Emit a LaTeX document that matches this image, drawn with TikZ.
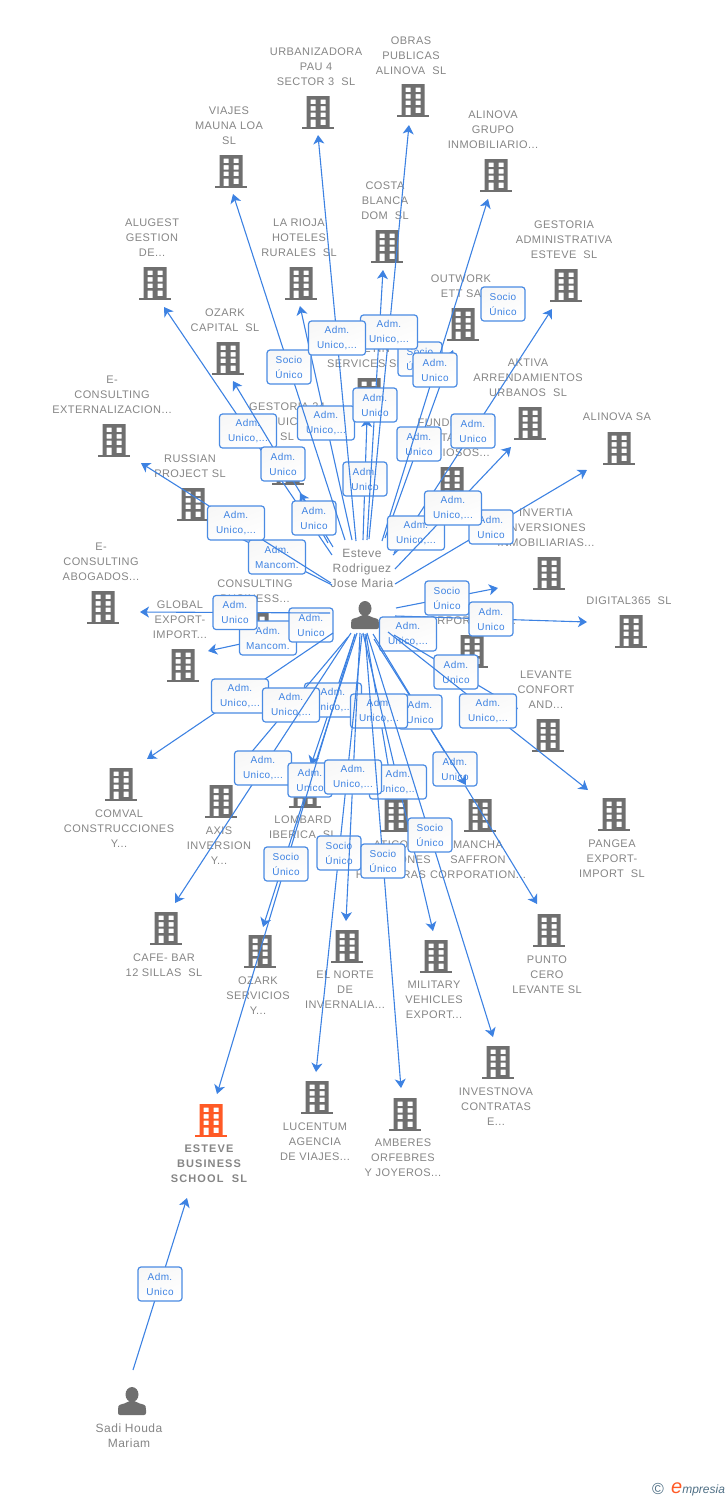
\documentclass[tikz,border=0pt]{standalone}
\usepackage{fontspec}
\setmainfont{Liberation Sans}
\usetikzlibrary{arrows.meta}
\newfontfamily\spaced[LetterSpace=4]{Liberation Sans}
\newfontfamily\spacedb[LetterSpace=10]{Liberation Sans}
\definecolor{linkblue}{HTML}{3D82E2}
\definecolor{boxblue}{HTML}{4A8BE3}
\definecolor{namegray}{HTML}{858585}
\definecolor{iconorange}{HTML}{FF5A26}
\definecolor{icongray}{HTML}{6F6F6F}
\definecolor{markslate}{HTML}{4F6F85}
\tikzset{
  link/.style={linkblue,line width=1.1pt,-{Stealth[length=9pt,width=11pt,inset=2.5pt]}},
  plainlink/.style={linkblue,line width=1.1pt},
  role/.style={draw=boxblue,line width=1.2pt,rounded corners=3pt,top color=black!3,bottom color=white,shading angle=20,
    text=linkblue,inner sep=0pt,minimum height=34pt,align=center,font=\spaced\fontsize{10}{15}\selectfont},
  rolesmall/.style={role,minimum width=44pt},
  rolewide/.style={role,minimum width=57pt},
  cotext/.style={text=namegray,inner sep=0pt,anchor=north,align=center,font=\spaced\fontsize{11}{15}\selectfont},
  persontext/.style={cotext,font=\spaced\fontsize{12}{15}\selectfont},
  bldg/.pic={
    \fill[pic actions,even odd rule] (-11.5,0) rectangle (11.5,31)
      (-7.5,3.5) rectangle (-2.5,8) (2.5,3.5) rectangle (7.5,8)
      (-7.5,10) rectangle (-2.5,14.5) (2.5,10) rectangle (7.5,14.5)
      (-7.5,16.5) rectangle (-2.5,21) (2.5,16.5) rectangle (7.5,21)
      (-7.5,23.5) rectangle (-2.5,31) (2.5,23.5) rectangle (7.5,29);
    \fill[pic actions] (-16,30.5) rectangle (16,33);
  },
  man/.pic={
    \fill[pic actions] (0,6.5) ellipse (6.5 and 7.5);
    \fill[pic actions,rounded corners=2pt] (-14,27) -- (-14,20) .. controls (-13,16) and (-7,16) .. (-4,13) -- (4,13)
      .. controls (7,16) and (13,16) .. (14,20) -- (14,27) -- cycle;
  }
}
% building at (cx,top), name centred on cx2 with first line at y
\newcommand{\company}[7][icongray]{
  \pic[fill=#1] at (#3,#4) {bldg};
  \node[cotext] (#2) at (#5,#6-4) {#7};
}
\newcommand{\boldline}{\spacedb\bfseries}
\begin{document}
\begin{tikzpicture}[x=1pt,y=-1pt]
  \useasboundingbox (0,0) rectangle (728,1500);

  % companies
  \company{urbanizadora}{318}{96}{316}{52}{URBANIZADORA\\PAU 4\\SECTOR 3\ \ SL}
  \company{obras}{413}{84}{411}{41}{OBRAS\\PUBLICAS\\ALINOVA\ \ SL}
  \company{viajes}{231}{155}{229}{111}{VIAJES\\MAUNA LOA\\SL}
  \company{alugest}{155}{267}{152}{223}{ALUGEST\\GESTION\\DE...}
  \company{rioja}{301}{267}{299}{223}{LA RIOJA\\HOTELES\\RURALES\ \ SL}
  \company{costa}{387}{230}{385}{186}{COSTA\\BLANCA\\DOM\ \ SL}
  \company{alinovagrupo}{496}{159}{493}{115}{ALINOVA\\GRUPO\\INMOBILIARIO...}
  \company{gestoria}{566}{269}{564}{225}{GESTORIA\\ADMINISTRATIVA\\ESTEVE\ \ SL}
  \company{outwork}{463}{308}{461}{279}{OUTWORK\\ETT SA}
  \company{aktiva}{530}{407}{528}{363}{AKTIVA\\ARRENDAMIENTOS\\URBANOS\ \ SL}
  \company{alinovasa}{619}{432}{617}{417}{ALINOVA SA}
  \company{fundicion}{452}{467}{450}{423}{FUNDICION\\METALES\\PRECIOSOS...}
  \company{invertia}{549}{557}{546}{513}{INVERTIA\\INVERSIONES\\INMOBILIARIAS...}
  \company{digital}{631}{615}{629}{601}{DIGITAL365\ \ SL}
  \company{corporation}{472}{635}{468}{621}{CORPORATION...}
  \company{levante}{548}{719}{546}{675}{LEVANTE\\CONFORT\\AND...}
  \company{pangea}{614}{798}{612}{844}{PANGEA\\EXPORT-\\IMPORT\ \ SL}
  \company{punto}{549}{914}{547}{960}{PUNTO\\CERO\\LEVANTE SL}
  \company{mancha}{480}{799}{478}{845}{MANCHA\\SAFFRON\\CORPORATION...}
  \company{atico}{396}{799}{391}{845}{ATICO\\INVERSIONES\\HOTELERAS}
  \company{lombard}{305}{775}{303}{820}{LOMBARD\\IBERICA\ \ SL}
  \company{axis}{221}{785}{219}{831}{AXIS\\INVERSION\\Y...}
  \company{comval}{121}{768}{119}{814}{COMVAL\\CONSTRUCCIONES\\Y...}
  \company{cafe}{166}{912}{164}{958}{CAFE- BAR\\12 SILLAS\ \ SL}
  \company{ozarkserv}{260}{935}{258}{981}{OZARK\\SERVICIOS\\Y...}
  \company{norte}{347}{930}{345}{975}{EL NORTE\\DE\\INVERNALIA...}
  \company{military}{436}{940}{434}{985}{MILITARY\\VEHICLES\\EXPORT...}
  \company{investnova}{498}{1046}{496}{1092}{INVESTNOVA\\CONTRATAS\\E...}
  \company{amberes}{405}{1098}{403}{1143}{AMBERES\\ORFEBRES\\Y JOYEROS...}
  \company{lucentum}{317}{1081}{315}{1127}{LUCENTUM\\AGENCIA\\DE VIAJES...}
  \company[iconorange]{esteve}{211}{1104}{209}{1149}{\boldline ESTEVE\\\boldline BUSINESS\\\boldline SCHOOL\ \ SL}
  \company{global}{183}{649}{180}{605}{GLOBAL\\EXPORT-\\IMPORT...}
  \company{abogados}{103}{591}{101}{547}{E-\\CONSULTING\\ABOGADOS...}
  \company{extern}{114}{424}{112}{380}{E-\\CONSULTING\\EXTERNALIZACION...}
  \company{russian}{193}{488}{190}{459}{RUSSIAN\\PROJECT SL}
  \company{ozarkcap}{228}{342}{225}{313}{OZARK\\CAPITAL\ \ SL}
  \company{gest24}{288}{452}{287}{407}{GESTORIA 24\\QUICK\\SL}
  \company{services}{369}{378}{365}{349}{BOLETIN\\SERVICES SL}
  \company{consulting}{257}{613}{255}{584}{CONSULTING\\BUSINESS...}

  % persons
  \pic[fill=icongray] at (365,602) {man};
  \node[persontext] (hub) at (362,549) {Esteve\\Rodriguez\\Jose Maria};
  \pic[fill=icongray] at (132,1388) {man};
  \node[persontext] (sadi) at (129,1424) {Sadi Houda\\Mariam};

  % free ends
  \coordinate (s) at (133,1370);
  \coordinate (t) at (187,1198);

  % roles with no line of their own
  \node[rolesmall] (socio1) at (420,359) {Socio\\Único};

  % links, in drawing order: a later line runs over an earlier box
  \draw[link] (363,540) -- node[rolesmall] (r1) {Adm.\\Unico} (367,418);
  \draw[link] (385,538) -- node[rolesmall] (r2) {Adm.\\Unico} (453,350);
  \draw[link] (352,540) -- node[rolewide] (r3) {Adm.\\Unico,...} (300,306);
  \draw[plainlink] (332,585) -- node[rolewide] (r4) {Adm.\\Mancom.} (222,529);
  \draw[link] (328,625) -- node[rolewide] (r5) {Adm.\\Mancom.} (208,651);
  \draw[plainlink] (330,625) -- node[rolesmall] (r6) {Adm.\\Unico} (292,625);
  \draw[link] (330,613) -- node[rolesmall] (r7) {Adm.\\Unico} (140,612);
  \draw[link] (332,555) -- node[rolewide] (r8) {Adm.\\Unico,...} (164,307);
  \draw[link] (333,547) -- node[rolesmall] (r9) {Adm.\\Unico} (233,381);
  \draw[link] (331,583) -- node[rolewide] (r10) {Adm.\\Unico,...} (141,463);
  \draw[link] (328,543) -- node[rolesmall] (r11) {Adm.\\Unico} (300,493);
  \draw[link] (345,540) -- node[rolesmall] (r12) {Socio\\Único} (233,194);
  \draw[link] (367,540) -- node[rolesmall] (r13) {Adm.\\Unico} (383,270);
  \draw[link] (369,539) -- node[rolewide] (r14) {Adm.\\Unico,...} (409,125);
  \draw[link] (356,541) -- node[rolewide] (r15) {Adm.\\Unico,...} (318,135);
  \draw[link] (382,541) -- node[rolesmall] (r16) {Adm.\\Unico} (488,199);
  \draw[link] (394,553) -- node[rolesmall] (r17) {Adm.\\Unico} (552,309);
  \draw[plainlink] (393,555) -- node[rolewide] (r18) {Adm.\\Unico,...} (439,511);
  \draw[link] (395,584) -- node[rolesmall] (r19) {Adm.\\Unico} (587,470);
  \draw[link] (395,569) -- node[rolewide] (r20) {Adm.\\Unico,...} (511,447);
  \draw[link] (396,608) -- node[rolesmall] (r21) {Socio\\Único} (498,588);
  \draw[link] (395,616) -- node[rolesmall] (r22) {Adm.\\Unico} (587,622);
  \draw[plainlink] (385,627) -- node[rolewide] (r23) {Adm.\\Unico,...} (431,641);
  \draw[link] (394,635) -- node[rolesmall] (r24) {Adm.\\Unico} (518,709);
  \draw[link] (388,632) -- node[rolewide] (r25) {Adm.\\Unico,...} (588,790);
  \draw[link] (355,635) -- node[rolewide] (r26) {Adm.\\Unico,...} (311,765);
  \draw[link] (333,633) -- node[rolewide] (r27) {Adm.\\Unico,...} (147,759);
  \draw[link] (348,637) -- node[rolewide] (r28) {Adm.\\Unico,...} (234,773);
  \draw[link] (373,634) -- node[rolesmall] (r29) {Adm.\\Unico} (537,904);
  \draw[link] (374,639) -- node[rolesmall] (r30) {Adm.\\Unico} (466,785);
  \draw[plainlink] (366,634) -- node[rolewide] (r31) {Adm.\\Unico,...} (392,788);
  \draw[link] (363,633) -- node[rolewide] (r32) {Adm.\\Unico,...} (433,931);
  \draw[link] (351,633) -- node[rolewide] (r33) {Adm.\\Unico,...} (175,903);
  \draw[link] (357,633) -- node[rolesmall] (r34) {Adm.\\Unico} (263,927);
  \draw[link] (362,634) -- node[rolesmall] (r35) {Socio\\Único} (316,1072);
  \draw[link] (355,634) -- node[rolesmall] (r36) {Socio\\Único} (217,1094);
  \draw[link] (360,633) -- node[rolewide] (r37) {Adm.\\Unico,...} (346,921);
  \draw[link] (365,634) -- node[rolesmall] (r38) {Socio\\Único} (401,1088);
  \draw[link] (367,633) -- node[rolesmall] (r39) {Socio\\Único} (493,1037);
  \draw[link] (s) -- node[rolesmall] (r40) {Adm.\\Unico} (t);
  \node[rolesmall] (socio2) at (503,304) {Socio\\Único};

  % mark in the corner
  \node[inner sep=0pt,text=markslate,font=\fontsize{16}{16}\selectfont] (copy) at (658,1489) {©};
  \node[inner sep=0pt,anchor=west,text=markslate,font=\fontsize{12}{13}\selectfont\itshape] (mark) at (671,1489)
    {\textcolor{iconorange}{\fontsize{20}{20}\selectfont e}mpresia};
\end{tikzpicture}
\end{document}
